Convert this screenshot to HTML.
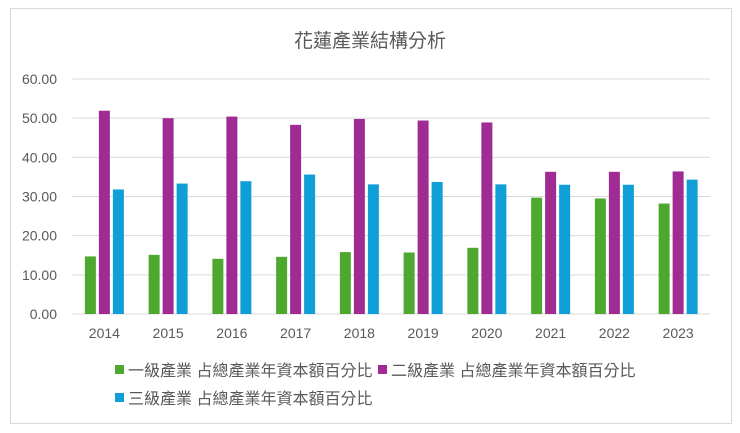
<!DOCTYPE html>
<html><head><meta charset="utf-8">
<style>
body{margin:0;background:#fff;width:740px;height:433px;overflow:hidden;font-family:"Liberation Sans","Noto Sans CJK TC",sans-serif;}
#frame{position:absolute;left:10px;top:8px;width:722px;height:416px;border:1px solid #d9d9d9;box-sizing:border-box;}
</style></head><body>
<div id="frame"></div>
<svg id="chart" width="740" height="433" style="position:absolute;left:0;top:0">
<text x="370" y="47" text-anchor="middle" font-size="19" fill="#595959" font-family="Liberation Sans, Noto Sans CJK TC, sans-serif">花蓮產業結構分析</text>
<g id="grid"></g><g id="bars"></g><g id="labels"></g>
<g id="legend" font-size="16" fill="#595959" font-family="Liberation Sans, Noto Sans CJK TC, sans-serif">
<rect x="115" y="365" width="9" height="9" fill="#4ea72e"/>
<text x="128" y="376">一級產業 占總產業年資本額百分比</text>
<rect x="378" y="365" width="9" height="9" fill="#a02b93"/>
<text x="391" y="376">二級產業 占總產業年資本額百分比</text>
<rect x="115" y="393" width="9" height="9" fill="#0f9ed5"/>
<text x="128" y="404">三級產業 占總產業年資本額百分比</text>
</g>
</svg>
<script>
const categories=["2014","2015","2016","2017","2018","2019","2020","2021","2022","2023"];
const primary=[14.7,15.1,14.1,14.6,15.8,15.7,16.9,29.7,29.5,28.2];
const secondary=[51.9,50.0,50.4,48.3,49.8,49.4,48.9,36.3,36.3,36.4];
const tertiary=[31.8,33.3,33.9,35.6,33.1,33.7,33.1,33.0,33.0,34.3];
const yTicks=[0,10,20,30,40,50,60];
const colors=["#4ea72e","#a02b93","#0f9ed5"];
const names=["primary","secondary","tertiary"];
const NS="http://www.w3.org/2000/svg";
const L=72.5,R=710,T=79,B=314,yMax=60;
const y=v=>B-(B-T)*v/yMax;
const bw=(R-L)/categories.length;
const xc=i=>L+bw*(i+0.5);
function mk(tag,attrs,parent){const e=document.createElementNS(NS,tag);for(const k in attrs)e.setAttribute(k,attrs[k]);document.getElementById(parent).appendChild(e);return e;}
yTicks.forEach(t=>{
 const l=mk("line",{x1:L,x2:R,y1:y(t),y2:y(t),stroke:"#d9d9d9","stroke-width":1},"grid");
 
 
 const tx=mk("text",{x:57,y:y(t)+5,"text-anchor":"end","font-size":14,fill:"#595959"},"labels");
 tx.textContent=t.toFixed(2);
 
 
});
[primary,secondary,tertiary].forEach((s,si)=>{
 s.forEach((v,i)=>{
  const x=xc(i)-19.5+si*14;
  const r=mk("rect",{x:x,y:y(v),width:11,height:B-y(v),fill:colors[si]},"bars");
  
  
 });
});
categories.forEach((c,i)=>{
 const tx=mk("text",{x:xc(i),y:338,"text-anchor":"middle","font-size":14,fill:"#595959"},"labels");
 tx.textContent=c;
 
 
});
</script>
</body></html>
